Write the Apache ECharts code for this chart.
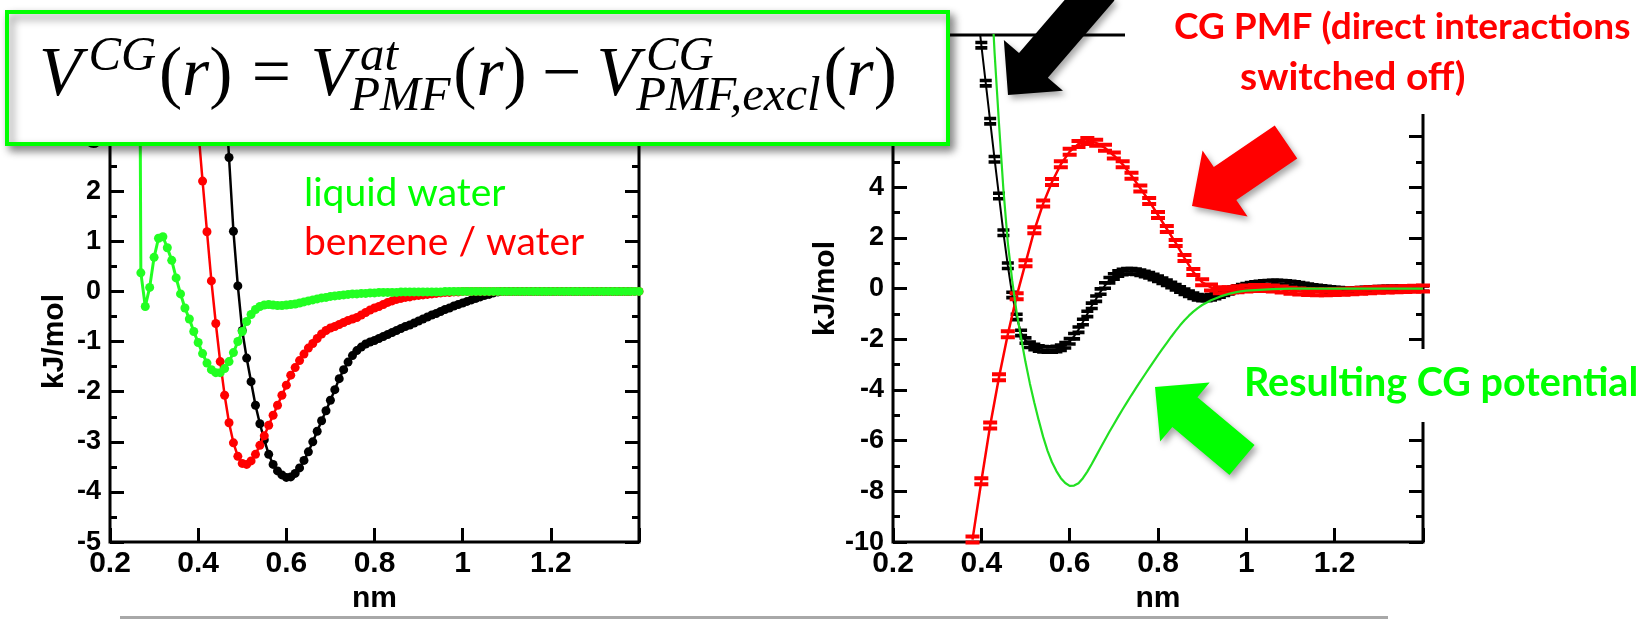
<!DOCTYPE html>
<html><head><meta charset="utf-8">
<script src="https://cdn.jsdelivr.net/npm/echarts@6/dist/echarts.min.js"></script>
<style>html,body{margin:0;padding:0;background:#fff}#c{width:1639px;height:619px}</style>
</head><body><div id="c"></div>
<script>
// ---------- DATA ----------
// left panel: distance grid (nm)
const leftR = [0.26,0.27,0.28,0.29,0.30,0.31,0.32,0.33,0.34,0.35,0.36,0.37,0.38,0.39,0.40,0.41,0.42,0.43,0.44,0.45,0.46,0.47,0.48,0.49,0.50,0.51,0.52,0.53,0.54,0.55,0.56,0.57,0.58,0.59,0.60,0.61,0.62,0.63,0.64,0.65,0.66,0.67,0.68,0.69,0.70,0.71,0.72,0.73,0.74,0.75,0.76,0.77,0.78,0.79,0.80,0.81,0.82,0.83,0.84,0.85,0.86,0.87,0.88,0.89,0.90,0.91,0.92,0.93,0.94,0.95,0.96,0.97,0.98,0.99,1.00,1.01,1.02,1.03,1.04,1.05,1.06,1.07,1.08,1.09,1.10,1.11,1.12,1.13,1.14,1.15,1.16,1.17,1.18,1.19,1.20,1.21,1.22,1.23,1.24,1.25,1.26,1.27,1.28,1.29,1.30,1.31,1.32,1.33,1.34,1.35,1.36,1.37,1.38,1.39,1.40];
// liquid water PMF (starts at 0.26)
const waterPMF = [20,0.37,-0.30,0.08,0.68,1.06,1.09,0.87,0.62,0.27,-0.05,-0.33,-0.55,-0.80,-1.02,-1.24,-1.43,-1.56,-1.62,-1.62,-1.54,-1.40,-1.22,-1.00,-0.80,-0.60,-0.46,-0.36,-0.30,-0.27,-0.26,-0.27,-0.28,-0.28,-0.27,-0.26,-0.25,-0.23,-0.21,-0.19,-0.17,-0.15,-0.13,-0.12,-0.10,-0.09,-0.08,-0.07,-0.06,-0.05,-0.05,-0.04,-0.04,-0.03,-0.03,-0.02,-0.02,-0.02,-0.02,-0.02,-0.01,-0.01,-0.01,-0.01,-0.01,-0.01,-0.01,-0.01,-0.01,-0.01,0,0,0,0,0,0,0,0,0,0,0,0,0,0,0,0,0,0,0,0,0,0,0,0,0,0,0,0,0,0,0,0,0,0,0,0,0,0,0,0,0,0,0,0,0];
const waterStart = 0;
// benzene / water PMF (starts at 0.40)
const benzenePMF = [3.25,2.20,1.19,0.21,-0.64,-1.40,-2.07,-2.62,-3.02,-3.29,-3.43,-3.45,-3.38,-3.25,-3.07,-2.88,-2.67,-2.47,-2.27,-2.07,-1.87,-1.67,-1.52,-1.38,-1.25,-1.13,-1.04,-0.94,-0.85,-0.78,-0.73,-0.70,-0.66,-0.62,-0.58,-0.55,-0.52,-0.47,-0.42,-0.37,-0.33,-0.30,-0.26,-0.22,-0.19,-0.16,-0.14,-0.12,-0.11,-0.09,-0.08,-0.07,-0.06,-0.05,-0.04,-0.03,-0.02,-0.02,-0.01,-0.01,0,0,0,0,0,0,0,0,0,0,0,0,0,0,0,0,0,0,0,0,0,0,0,0,0,0,0,0,0,0,0,0,0,0,0,0,0,0,0,0,0];
const benzeneStart = 14;
// black PMF (starts at 0.46)
const blackPMF = [4.2,2.67,1.20,0.11,-0.78,-1.33,-1.80,-2.27,-2.64,-2.96,-3.25,-3.45,-3.58,-3.66,-3.71,-3.70,-3.63,-3.52,-3.37,-3.20,-3.00,-2.79,-2.58,-2.38,-2.17,-1.96,-1.74,-1.56,-1.41,-1.28,-1.18,-1.11,-1.05,-1.01,-0.98,-0.94,-0.90,-0.86,-0.82,-0.78,-0.74,-0.70,-0.67,-0.63,-0.59,-0.55,-0.51,-0.47,-0.44,-0.40,-0.36,-0.33,-0.29,-0.26,-0.23,-0.20,-0.17,-0.14,-0.11,-0.08,-0.06,-0.03,-0.01,0,0,0,0,0,0,0,0,0,0,0,0,0,0,0,0,0,0,0,0,0,0,0,0,0,0,0,0,0,0];
const blackStart = 20;

// right panel
const rightR = [0.38,0.39,0.40,0.41,0.42,0.43,0.44,0.45,0.46,0.47,0.48,0.49,0.50,0.51,0.52,0.53,0.54,0.55,0.56,0.57,0.58,0.59,0.60,0.61,0.62,0.63,0.64,0.65,0.66,0.67,0.68,0.69,0.70,0.71,0.72,0.73,0.74,0.75,0.76,0.77,0.78,0.79,0.80,0.81,0.82,0.83,0.84,0.85,0.86,0.87,0.88,0.89,0.90,0.91,0.92,0.93,0.94,0.95,0.96,0.97,0.98,0.99,1.00,1.01,1.02,1.03,1.04,1.05,1.06,1.07,1.08,1.09,1.10,1.11,1.12,1.13,1.14,1.15,1.16,1.17,1.18,1.19,1.20,1.21,1.22,1.23,1.24,1.25,1.26,1.27,1.28,1.29,1.30,1.31,1.32,1.33,1.34,1.35,1.36,1.37,1.38,1.39,1.40];
// atomistic PMF (black, starts at 0.39, every 0.01)
const atPMF = [11.2,9.6,8.1,6.6,5.1,3.65,2.2,0.9,-0.25,-1.12,-1.75,-2.05,-2.22,-2.31,-2.36,-2.39,-2.40,-2.40,-2.38,-2.33,-2.24,-2.08,-1.88,-1.62,-1.32,-1.00,-0.68,-0.40,-0.12,0.12,0.33,0.48,0.59,0.65,0.68,0.68,0.66,0.62,0.57,0.52,0.46,0.39,0.31,0.23,0.14,0.05,-0.04,-0.13,-0.21,-0.28,-0.34,-0.37,-0.37,-0.34,-0.29,-0.23,-0.17,-0.11,-0.05,0.00,0.05,0.09,0.13,0.16,0.18,0.20,0.21,0.22,0.22,0.21,0.20,0.18,0.16,0.13,0.10,0.07,0.04,0.02,0.00,-0.02,-0.04,-0.06,-0.07,-0.08,-0.08,-0.08,-0.08,-0.07,-0.06,-0.05,-0.04,-0.03,-0.03,-0.02,-0.02,-0.01,-0.01,-0.01,0,0,0,0];
const atStart = 1;
// CG PMF with direct interactions switched off (red, starts at 0.38, every 0.02)
const exclPMF = [-9.9,-7.6,-5.4,-3.5,-1.8,-0.3,1.0,2.3,3.35,4.2,4.9,5.4,5.7,5.82,5.75,5.55,5.25,4.9,4.45,3.95,3.45,2.9,2.35,1.8,1.2,0.65,0.25,0.04,-0.07,-0.07,-0.03,0.0,0.02,0.02,0.0,-0.04,-0.09,-0.12,-0.14,-0.15,-0.15,-0.14,-0.13,-0.11,-0.09,-0.07,-0.05,-0.04,-0.03,-0.02,-0.01,0.0];
// resulting CG potential (green line)
const cgR = [0.427,0.43,0.44,0.45,0.46,0.47,0.48,0.49,0.50,0.51,0.52,0.53,0.54,0.55,0.56,0.57,0.58,0.59,0.60,0.61,0.62,0.63,0.64,0.65,0.66,0.67,0.68,0.69,0.70,0.71,0.72,0.73,0.74,0.75,0.76,0.77,0.78,0.79,0.80,0.81,0.82,0.83,0.84,0.85,0.86,0.87,0.88,0.89,0.90,0.92,0.94,0.96,0.98,1.00,1.03,1.06,1.10,1.20,1.30,1.40];
const cgPot = [10.3,9.3,6.5,3.9,1.8,0.3,-0.95,-1.95,-2.9,-3.75,-4.5,-5.2,-5.85,-6.4,-6.85,-7.2,-7.48,-7.67,-7.78,-7.77,-7.68,-7.48,-7.22,-6.92,-6.6,-6.28,-5.96,-5.65,-5.35,-5.05,-4.76,-4.48,-4.2,-3.93,-3.66,-3.4,-3.14,-2.88,-2.63,-2.38,-2.14,-1.9,-1.67,-1.45,-1.25,-1.07,-0.91,-0.77,-0.65,-0.46,-0.32,-0.21,-0.13,-0.08,-0.05,-0.02,0,0,0,0];

const xTicks = ['0.2','0.4','0.6','0.8','1','1.2'];

// ---------- BUILD ----------
const pair = (xs, ys, off, stride) => ys.map((v, i) => [xs[off + i * (stride || 1)], v]);

const chart = echarts.init(document.getElementById('c'), null, {renderer: 'canvas'});
const lblFont = {color:'#000', fontFamily:'Liberation Sans', fontWeight:'bold'};
const tickStyle = {color:'#000', width:3};
const nameStyle = {color:'#000', fontFamily:'Liberation Sans', fontWeight:'bold', fontSize:30};

function xAx(g){
  return {gridIndex:g, type:'value', min:0.2, max:1.4, interval:0.2, position:'bottom',
    axisLine:{show:false, onZero:false}, axisTick:{show:true, inside:true, length:14, lineStyle:tickStyle},
    axisLabel:Object.assign({margin:7, fontSize:30, formatter:v => { const s = String(Math.round(v*10)/10); return xTicks.indexOf(s) >= 0 ? s : ''; }}, lblFont),
    splitLine:{show:false},
    name:'nm', nameLocation:'middle', nameGap:27, nameTextStyle:nameStyle};
}
function yAx(g, min, max, iv, gap){
  return {gridIndex:g, type:'value', min, max, interval:iv, position:'left',
    axisLine:{show:false, onZero:false}, axisTick:{show:true, inside:true, length:14, lineStyle:tickStyle},
    minorTick:{show:true, splitNumber:2, length:7, lineStyle:tickStyle},
    axisLabel:Object.assign({margin:9, fontSize:27}, lblFont),
    splitLine:{show:false}, minorSplitLine:{show:false},
    name:'kJ/mol', nameLocation:'middle', nameRotate:90, nameGap:gap, nameTextStyle:nameStyle};
}
function yAxR(g, min, max, iv){
  return {gridIndex:g, type:'value', min, max, interval:iv, position:'right',
    axisLine:{show:false, onZero:false}, axisTick:{show:true, inside:true, length:14, lineStyle:tickStyle},
    minorTick:{show:true, splitNumber:2, length:7, lineStyle:tickStyle},
    axisLabel:{show:false}, splitLine:{show:false}, minorSplitLine:{show:false}};
}

const barSym = 'path://M0,0L14,0L14,4L0,4Z M0,6L14,6L14,10L0,10Z';

// arrow polygon from tip toward tail
function arrow(tip, tail, headLen, headW, shaftW){
  const dx = tail[0]-tip[0], dy = tail[1]-tip[1], L = Math.hypot(dx,dy);
  const ux = dx/L, uy = dy/L, nx = -uy, ny = ux;
  const bx = tip[0]+ux*headLen, by = tip[1]+uy*headLen;
  return [tip,
    [bx+nx*headW/2, by+ny*headW/2], [bx+nx*shaftW/2, by+ny*shaftW/2],
    [tail[0]+nx*shaftW/2, tail[1]+ny*shaftW/2], [tail[0]-nx*shaftW/2, tail[1]-ny*shaftW/2],
    [bx-nx*shaftW/2, by-ny*shaftW/2], [bx-nx*headW/2, by-ny*headW/2]];
}
const shadow = {shadowColor:'rgba(0,0,0,0.35)', shadowBlur:6, shadowOffsetX:3, shadowOffsetY:4};

// ---- formula: V^{CG}(r) = V^{at}_{PMF}(r) - V^{CG}_{PMF,excl}(r) ----
const formulaTokens = [
  {t:'V', it:1}, {sup:'CG'}, {t:'('}, {t:'r', it:1}, {t:')'},
  {sp:0.28}, {t:'='}, {sp:0.28},
  {t:'V', it:1}, {sup:'at', sub:'PMF'}, {t:'('}, {t:'r', it:1}, {t:')'},
  {sp:0.22}, {t:'\u2212'}, {sp:0.22},
  {t:'V', it:1}, {sup:'CG', sub:'PMF,excl'}, {t:'('}, {t:'r', it:1}, {t:')'}
];
const mctx = document.createElement('canvas').getContext('2d');
function fontOf(size, it){ return (it ? 'italic ' : '') + size + 'px "Liberation Serif"'; }
function tw(t, size, it){ mctx.font = fontOf(size, it); return mctx.measureText(t).width; }
function layoutFormula(F, x0, base){
  const S = F * 0.7, out = [];
  let x = x0;
  for (const k of formulaTokens){
    if (k.sp){ x += k.sp * F; continue; }
    if (k.t){ out.push({t:k.t, x, b:base, s:F, it:k.it}); x += tw(k.t, F, k.it); continue; }
    let end = x;
    if (k.sup){ const sx = x + 0.1*F; out.push({t:k.sup, x:sx, b:base - 0.38*F, s:S, it:1}); end = Math.max(end, sx + tw(k.sup, S, 1)); }
    if (k.sub){ const bx = x - 0.04*F; out.push({t:k.sub, x:bx, b:base + 0.2*F, s:S, it:1}); end = Math.max(end, bx + tw(k.sub, S, 1)); }
    x = end + 0.04*F;
  }
  return {items: out, end: x};
}
let FM = 64;
const trial = layoutFormula(FM, 39, 100);
FM = Math.max(58, Math.min(74, FM * (897 - 39) / (trial.end - 39)));
const formulaEls = layoutFormula(FM, 39, 100).items.map(p => ({type:'text', z:102, x:p.x, y:p.b - 0.34*p.s,
  style:{text:p.t, font:fontOf(p.s, p.it), fill:'#000', align:'left', verticalAlign:'middle'}}));

function label(text, x, baseline, size, color, bold){
  return {type:'text', z:104, x, y:baseline-0.39*size,
    style:{text, font:(bold?'bold ':'')+size+'px Lato', fill:color, align:'left', verticalAlign:'middle'}};
}

const option = {
  animation:false,
  backgroundColor:'#fff',
  grid:[
    {left:110, top:141, width:529, height:423, show:true, borderColor:'#000', borderWidth:3, backgroundColor:'transparent'},
    {left:893, top:35, width:530, height:528.5, show:true, borderColor:'#000', borderWidth:3, backgroundColor:'transparent'}
  ],
  xAxis:[xAx(0), xAx(1)],
  yAxis:[yAx(0,-5,3,1,40), yAxR(0,-5,3,1), yAx(1,-10,10,2,52), yAxR(1,-10,10,2)],
  series:[
    {name:'black', type:'line', xAxisIndex:0, yAxisIndex:0, data:pair(leftR, blackPMF, blackStart), symbol:'circle', symbolSize:9, clip:true,
      lineStyle:{color:'#000', width:2.5}, itemStyle:{color:'#000'}, z:2},
    {name:'benzene / water', type:'line', xAxisIndex:0, yAxisIndex:0, data:pair(leftR, benzenePMF, benzeneStart), symbol:'circle', symbolSize:9, clip:true,
      lineStyle:{color:'#ff0000', width:2.5}, itemStyle:{color:'#ff0000'}, z:3},
    {name:'liquid water', type:'line', xAxisIndex:0, yAxisIndex:0, data:pair(leftR, waterPMF, waterStart), symbol:'circle', symbolSize:9, clip:true,
      lineStyle:{color:'#22ff22', width:3}, itemStyle:{color:'#22ff22'}, z:4},
    {name:'atomistic PMF', type:'line', xAxisIndex:1, yAxisIndex:2, data:pair(rightR, atPMF, atStart), symbol:barSym, symbolSize:[12,9], clip:true,
      lineStyle:{color:'#000', width:2}, itemStyle:{color:'#000'}, z:2},
    {name:'CG PMF excl', type:'line', xAxisIndex:1, yAxisIndex:2, data:pair(rightR, exclPMF, 0, 2), symbol:barSym, symbolSize:[14,10], clip:true,
      lineStyle:{color:'#ff0000', width:2.5}, itemStyle:{color:'#ff0000'}, z:3},
    {name:'CG potential', type:'line', xAxisIndex:1, yAxisIndex:2, data:pair(cgR, cgPot, 0), showSymbol:false, clip:true,
      lineStyle:{color:'#22e022', width:2.2}, z:4}
  ],
  graphic:[
    // formula box
    {type:'rect', z:100, shape:{x:7, y:12, width:941, height:132},
      style:{fill:'#fff', stroke:'#00ff00', lineWidth:4, shadowColor:'rgba(0,0,0,0.45)', shadowBlur:8, shadowOffsetX:4, shadowOffsetY:5}},
    ...formulaEls,
    label('liquid water', 304, 209, 39, '#00ff00', false),
    label('benzene / water', 304, 258, 39, '#ff0000', false),
    // white backgrounds of the right-hand annotations
    {type:'rect', z:103, shape:{x:1125, y:0, width:514, height:114}, style:{fill:'#fff'}},
    {type:'rect', z:103, shape:{x:1236, y:349, width:403, height:73}, style:{fill:'#fff'}},
    label('CG PMF (direct interactions', 1174, 41, 37, '#ff0000', true),
    label('switched off)', 1240, 93, 39, '#ff0000', true),
    label('Resulting CG potential', 1244, 399, 39.5, '#00ff00', true),
    // arrows
    {type:'polygon', z:105, shape:{points:arrow([1008,95],[1100,-12],39,78,38)}, style:Object.assign({fill:'#000'}, shadow)},
    {type:'polygon', z:105, shape:{points:arrow([1192,206],[1286,142],40,80,40)}, style:Object.assign({fill:'#ff0000'}, shadow)},
    {type:'polygon', z:105, shape:{points:arrow([1155,387],[1242,460],39,77,39)}, style:Object.assign({fill:'#00ff00'}, shadow)},
    // bottom grey rule
    {type:'rect', z:106, shape:{x:120, y:616, width:1268, height:3}, style:{fill:'#a8a8a8'}}
  ]
};
chart.setOption(option);
</script></body></html>
